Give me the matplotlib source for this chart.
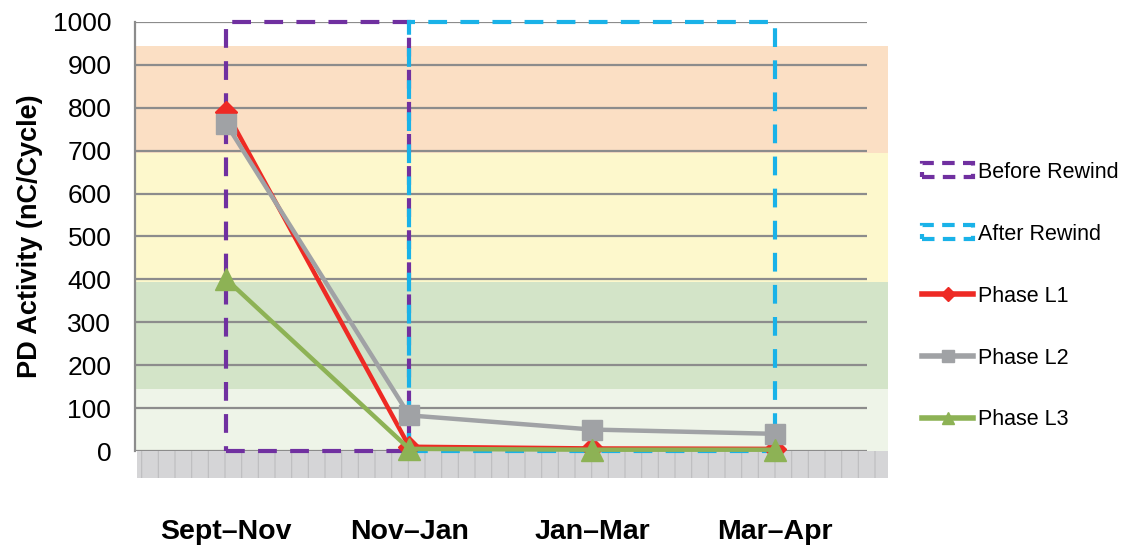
import matplotlib.pyplot as plt
from matplotlib.patches import Rectangle
from matplotlib.lines import Line2D

plt.rcParams['font.family'] = ['Liberation Sans', 'DejaVu Sans']

periods = ['Sept\u2013Nov', 'Nov\u2013Jan', 'Jan\u2013Mar', 'Mar\u2013Apr']
phase_l1 = [790, 10, 6, 5]
phase_l2 = [762, 83, 50, 40]
phase_l3 = [400, 5, 3, 3]

# severity bands (lower, upper) and their fills
band_edges = [(0, 145), (145, 395), (395, 695), (695, 945)]
band_colors = ['#eef4e8', '#d3e4c8', '#fdf8cc', '#fbdfc4']

before_span = (0, 1)
after_span = (1, 3)

fig = plt.figure(figsize=(11.21, 5.48), dpi=100)
ax = fig.add_axes([0.1204, 0.177, 0.6526, 0.783])
x = list(range(len(periods)))
ax.set_xlim(-0.5, 3.5)
ax.set_ylim(0, 1000)

right_edge = 3.62
for (lo, hi), c in zip(band_edges, band_colors):
    ax.add_patch(Rectangle((-0.5, lo), right_edge + 0.5, hi - lo, facecolor=c,
                           edgecolor='none', zorder=0, clip_on=False))

# textured floor under the zero line
plt.rcParams['hatch.linewidth'] = 0.8
ax.add_patch(Rectangle((-0.49, -63), right_edge + 0.49, 63, facecolor='#d5d5d7',
                       edgecolor='#bdbdbf', hatch='|', linewidth=0, zorder=0, clip_on=False))

ax.set_yticks(range(0, 1001, 100))
ax.yaxis.grid(True, color='#8c8c8c', linewidth=1.6)
ax.set_axisbelow(True)
for s in ['top', 'right', 'bottom']:
    ax.spines[s].set_visible(False)
ax.spines['left'].set_color('#8c8c8c')
ax.spines['left'].set_linewidth(1.6)
ax.tick_params(axis='y', length=0, labelsize=19, pad=17)
ax.tick_params(axis='x', length=0, labelsize=20.5, pad=49)
ax.set_xticks(x)
ax.set_xticklabels(periods, fontweight='bold')
ax.set_ylabel('PD Activity (nC/Cycle)', fontsize=19.5, fontweight='bold', labelpad=7)

dash = (0, (4.5, 3.2))
ax.add_patch(Rectangle((before_span[0], 0), before_span[1] - before_span[0], 1000,
                       fill=False, edgecolor='#7030a0', linewidth=3, linestyle=dash,
                       zorder=3, clip_on=False))
ax.add_patch(Rectangle((after_span[0], 0), after_span[1] - after_span[0], 1000,
                       fill=False, edgecolor='#19b2e8', linewidth=3, linestyle=dash,
                       zorder=3, clip_on=False))

ax.plot(x, phase_l1, color='#ee2a24', linewidth=3.2, marker='D', markersize=11,
        zorder=5, clip_on=False)
ax.plot(x, phase_l2, color='#a0a2a5', linewidth=3.2, marker='s', markersize=15,
        zorder=6, clip_on=False)
ax.plot(x, phase_l3, color='#8db255', linewidth=3.2, marker='^', markersize=16,
        zorder=7, clip_on=False)

handles = [
    Rectangle((0, 0), 1, 1, fill=False, edgecolor='#7030a0', linewidth=3, linestyle=(0, (3, 2))),
    Rectangle((0, 0), 1, 1, fill=False, edgecolor='#19b2e8', linewidth=3, linestyle=(0, (3, 2))),
    Line2D([], [], color='#ee2a24', linewidth=4, marker='D', markersize=7),
    Line2D([], [], color='#a0a2a5', linewidth=4, marker='s', markersize=9),
    Line2D([], [], color='#8db255', linewidth=4, marker='^', markersize=9),
]
labels = ['Before Rewind', 'After Rewind', 'Phase L1', 'Phase L2', 'Phase L3']
fig.legend(handles, labels, loc='upper left', bbox_to_anchor=(0.805, 0.74),
           frameon=False, fontsize=15.5, handlelength=2.4, handleheight=0.6,
           handletextpad=0.2, labelspacing=1.9)

fig.savefig('out.png', dpi=100)
